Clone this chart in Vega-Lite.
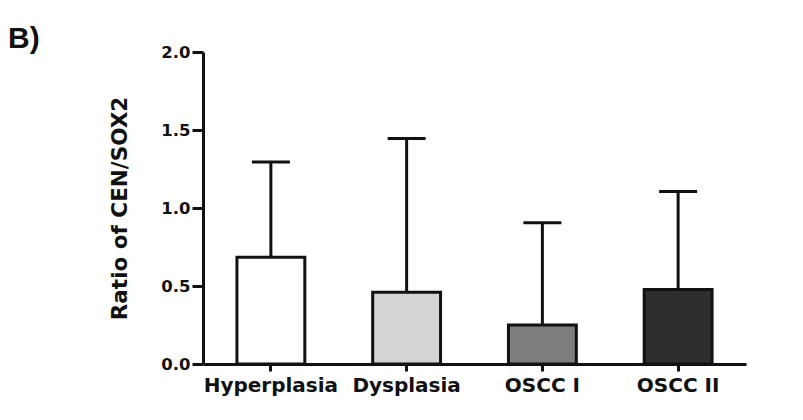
{
  "$schema": "https://vega.github.io/schema/vega-lite/v6.json",
  "width": 543,
  "height": 312,
  "autosize": {"type": "none"},
  "padding": {"left": 203, "top": 52, "right": 57, "bottom": 56},
  "background": "white",
  "title": {
    "text": "B)",
    "anchor": "start",
    "frame": "group",
    "orient": "top",
    "font": "Liberation Sans",
    "fontSize": 30,
    "fontWeight": "bold",
    "color": "#111111",
    "baseline": "alphabetic",
    "offset": 0,
    "dx": -195,
    "dy": 34
  },
  "config": {
    "view": {"stroke": null},
    "axis": {
      "domainColor": "#111111",
      "domainWidth": 3,
      "tickColor": "#111111",
      "tickWidth": 3,
      "grid": false,
      "labelFont": "DejaVu Sans",
      "labelFontWeight": "bold",
      "labelColor": "#111111",
      "titleColor": "#111111",
      "titleFont": "DejaVu Sans",
      "titleFontWeight": "bold"
    }
  },
  "data": {
    "values": [
      {"group": "Hyperplasia", "mean": 0.685, "upper": 1.295},
      {"group": "Dysplasia", "mean": 0.46, "upper": 1.445},
      {"group": "OSCC I", "mean": 0.25, "upper": 0.905},
      {"group": "OSCC II", "mean": 0.478, "upper": 1.105}
    ]
  },
  "encoding": {
    "x": {
      "field": "group",
      "type": "nominal",
      "sort": null,
      "scale": {"paddingInner": 0.5, "paddingOuter": 0.25},
      "axis": {
        "title": null,
        "labelAngle": 0,
        "labelFontSize": 20,
        "tickSize": 7,
        "labelPadding": 4
      }
    }
  },
  "layer": [
    {
      "mark": {"type": "bar", "stroke": "#111111", "strokeWidth": 3},
      "encoding": {
        "y": {
          "field": "mean",
          "type": "quantitative",
          "scale": {"domain": [0, 2], "nice": false},
          "axis": {
            "values": [0, 0.5, 1, 1.5, 2],
            "format": ".1f",
            "labelFontSize": 16.5,
            "tickSize": 11,
            "labelPadding": 2,
            "title": "Ratio of CEN/SOX2",
            "titleFontSize": 21.5,
            "titlePadding": 29
          }
        },
        "fill": {
          "field": "group",
          "type": "nominal",
          "scale": {
            "domain": ["Hyperplasia", "Dysplasia", "OSCC I", "OSCC II"],
            "range": ["#ffffff", "#d4d4d4", "#7d7d7d", "#2e2e2e"]
          },
          "legend": null
        }
      }
    },
    {
      "mark": {"type": "rule", "strokeWidth": 3, "color": "#111111"},
      "encoding": {
        "y": {"field": "mean", "type": "quantitative"},
        "y2": {"field": "upper"}
      }
    },
    {
      "mark": {"type": "tick", "orient": "horizontal", "size": 38, "thickness": 3, "color": "#111111", "opacity": 1},
      "encoding": {
        "y": {"field": "upper", "type": "quantitative"}
      }
    }
  ]
}
